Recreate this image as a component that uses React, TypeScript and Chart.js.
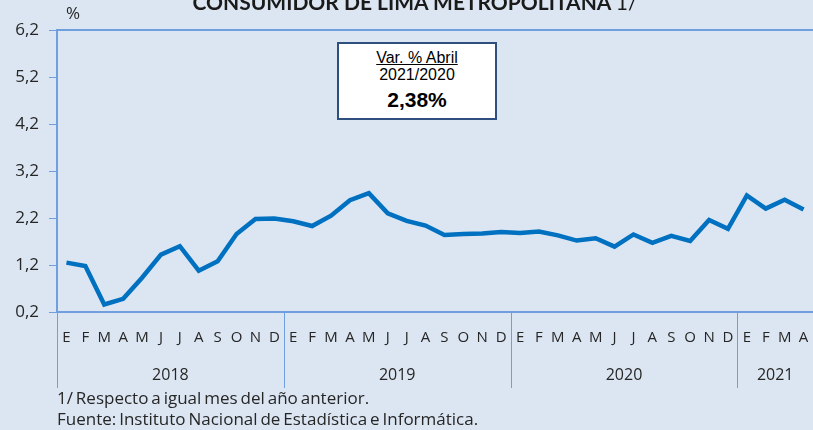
import React, { useEffect, useRef } from "react";
import { Chart, registerables } from "chart.js";

Chart.register(...registerables);

const monthLetters = ["E", "F", "M", "A", "M", "J", "J", "A", "S", "O", "N", "D"];
const years = ["2018", "2019", "2020", "2021"];
const monthsPerYear = [12, 12, 12, 4];
const values2018 = [1.25, 1.18, 0.36, 0.48, 0.93, 1.42, 1.6, 1.08, 1.28, 1.86, 2.18, 2.19];
const values2019 = [2.13, 2.03, 2.25, 2.58, 2.73, 2.3, 2.14, 2.04, 1.84, 1.86, 1.87, 1.9];
const values2020 = [1.88, 1.91, 1.83, 1.72, 1.77, 1.59, 1.85, 1.67, 1.82, 1.71, 2.16, 1.97];
const values2021 = [2.68, 2.4, 2.59, 2.38];
const yMin = 0.2;
const yMax = 6.2;
const yStep = 1;

const BLUE_AXIS = "#6f9fdf";
const BG = "#dce6f2";
const LINE = "#0070c0";
const TEXT = "#262626";
const FONT = "'Open Sans', Lato, sans-serif";

export default function App() {
  const ref = useRef<HTMLCanvasElement | null>(null);

  useEffect(() => {
    document.body.style.margin = "0";
    const labels: string[] = [];
    monthsPerYear.forEach((n) => {
      for (let i = 0; i < n; i++) labels.push(monthLetters[i]);
    });
    const data = [...values2018, ...values2019, ...values2020, ...values2021];

    const extras = {
      id: "extras",
      afterDraw(chart: any) {
        const ctx = chart.ctx;
        const ca = chart.chartArea;
        const xs = chart.scales.x;
        ctx.save();
        ctx.strokeStyle = BLUE_AXIS;
        ctx.lineWidth = 2;
        ctx.beginPath();
        ctx.moveTo(ca.left - 1, ca.top);
        ctx.lineTo(ca.right, ca.top);
        ctx.stroke();
        ctx.lineWidth = 1;
        let start = 0;
        ctx.font = `16px ${FONT}`;
        ctx.fillStyle = TEXT;
        ctx.textAlign = "center";
        ctx.textBaseline = "middle";
        years.forEach((yr, k) => {
          const n = monthsPerYear[k];
          const x0 = start === 0 ? ca.left : (xs.getPixelForValue(start - 1) + xs.getPixelForValue(start)) / 2;
          const end = start + n - 1;
          const x1 = end >= labels.length - 1 ? ca.right : (xs.getPixelForValue(end) + xs.getPixelForValue(end + 1)) / 2;
          ctx.beginPath();
          ctx.moveTo(Math.round(x0) + 0.5, ca.bottom);
          ctx.lineTo(Math.round(x0) + 0.5, 388);
          ctx.stroke();
          ctx.fillText(yr, (x0 + x1) / 2, 375);
          start += n;
        });
        ctx.restore();
      },
    };

    const chart = new Chart(ref.current as HTMLCanvasElement, {
      type: "line",
      data: {
        labels,
        datasets: [
          {
            data,
            borderColor: LINE,
            borderWidth: 4.5,
            pointRadius: 0,
            tension: 0,
            fill: false,
          },
        ],
      },
      options: {
        animation: false,
        responsive: false,
        devicePixelRatio: 1,
        layout: { padding: { top: 30, right: 0, left: 0, bottom: 0 } },
        plugins: { legend: { display: false }, tooltip: { enabled: false }, title: { display: false } },
        scales: {
          x: {
            offset: true,
            grid: { display: true, drawOnChartArea: false, drawTicks: true, tickLength: 17, color: "rgba(0,0,0,0)" },
            border: { display: true, color: BLUE_AXIS, width: 2 },
            ticks: {
              autoSkip: false,
              maxRotation: 0,
              padding: 0,
              color: TEXT,
              font: { family: FONT, size: 15 },
            },
            afterFit: (s: any) => {
              s.height = 118;
              s.paddingLeft = 0;
              s.paddingRight = 0;
            },
          },
          y: {
            min: yMin,
            max: yMax,
            grid: { display: true, drawOnChartArea: false, drawTicks: true, tickLength: 8, color: BLUE_AXIS },
            border: { display: true, color: BLUE_AXIS, width: 2 },
            ticks: {
              stepSize: yStep,
              padding: 10,
              color: TEXT,
              font: { family: FONT, size: 17 },
              callback: (v: any) => Number(v).toFixed(1).replace(".", ","),
            },
            afterFit: (s: any) => {
              s.width = 57;
            },
          },
        },
      },
      plugins: [extras],
    });
    return () => chart.destroy();
  }, []);

  return (
    <div style={{ position: "absolute", left: 0, top: 0, width: 813, height: 430, background: BG, overflow: "hidden", fontFamily: FONT, color: TEXT }}>
      <canvas ref={ref} width={813} height={430} style={{ position: "absolute", left: 0, top: 0, width: 813, height: 430 }} />
      <div style={{ position: "absolute", left: 0, width: 830, top: -9, textAlign: "center", fontSize: 21, lineHeight: "21px", fontWeight: 700, fontFamily: "Lato, sans-serif", color: "#1a1a1a" }}>
        CONSUMIDOR DE LIMA METROPOLITANA <span style={{ fontWeight: 400 }}>1/</span>
      </div>
      <div style={{ position: "absolute", left: 66, top: 4, fontSize: 17, lineHeight: "17px" }}>%</div>
      <div
        style={{
          position: "absolute",
          left: 337,
          top: 42,
          width: 156,
          height: 74,
          background: "#fff",
          border: "2px solid #2f4f7f",
          textAlign: "center",
          fontFamily: "'Liberation Sans', Arial, sans-serif",
          color: "#000",
        }}
      >
        <div style={{ fontSize: 16, lineHeight: "17px", marginTop: 5, textDecoration: "underline" }}>Var. % Abril</div>
        <div style={{ fontSize: 16, lineHeight: "17px" }}>2021/2020</div>
        <div style={{ fontSize: 21, lineHeight: "26px", marginTop: 4, fontWeight: 700 }}>2,38%</div>
      </div>
      <div style={{ position: "absolute", left: 57, top: 388, fontSize: 17, lineHeight: "20px", wordSpacing: -1.5 }}>1/ Respecto a igual mes del año anterior.</div>
      <div style={{ position: "absolute", left: 57, top: 409, fontSize: 17, lineHeight: "20px", wordSpacing: -1.5 }}>Fuente: Instituto Nacional de Estadística e Informática.</div>
    </div>
  );
}
